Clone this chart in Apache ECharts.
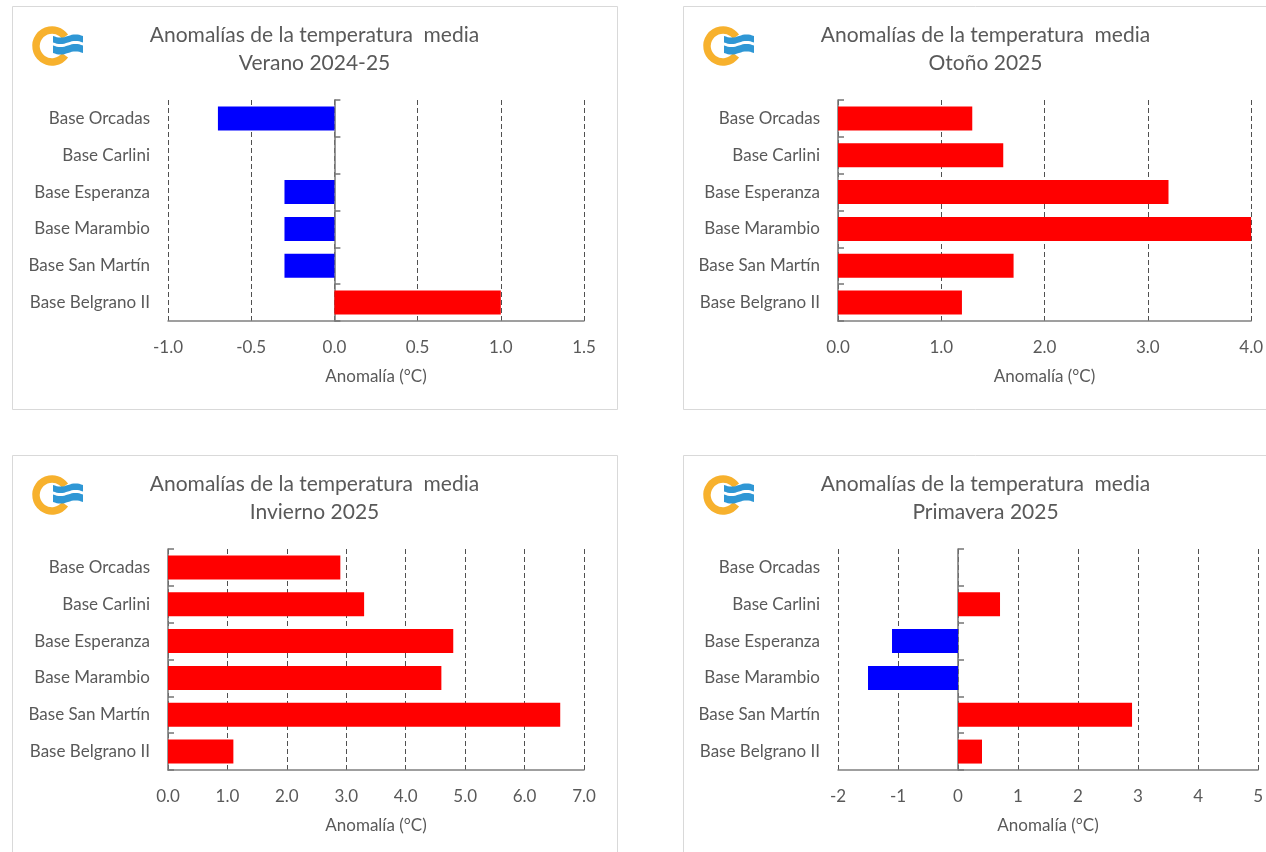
<!DOCTYPE html>
<html>
<head>
<meta charset="utf-8">
<script src="https://cdn.jsdelivr.net/npm/echarts@6/dist/echarts.min.js"></script>
<style>
html,body{margin:0;padding:0;background:#ffffff;}
#c{width:1266px;height:852px;}
</style>
</head>
<body>
<div id="c"></div>
<script>
// ---- data ----
const categories = ['Base Orcadas','Base Carlini','Base Esperanza','Base Marambio','Base San Martín','Base Belgrano II'];
const seasons = ['Verano 2024-25','Otoño 2025','Invierno 2025','Primavera 2025'];
const verano    = [-0.7, null, -0.3, -0.3, -0.3, 1.0];
const otono     = [1.3, 1.6, 3.2, 4.0, 1.7, 1.2];
const invierno  = [2.9, 3.3, 4.8, 4.6, 6.6, 1.1];
const primavera = [null, 0.7, -1.1, -1.5, 2.9, 0.4];
const axisMin = [-1, 0, 0, -2];
const axisMax = [1.5, 4, 7, 5];
const axisStep = [0.5, 1, 1, 1];
const tickDecimals = [1, 1, 1, 0];
const mainTitle = 'Anomalías de la temperatura  media';
const axisTitle = 'Anomalía (°C)';

const seriesValues = [verano, otono, invierno, primavera];

// ---- layout ----
const FONT = 'Lato, "Open Sans", sans-serif';
const TXT = '#595959';
const panels = [
  {x:12,  y:6,   grid:{left:168, top:100, width:416, height:221}},
  {x:683, y:6,   grid:{left:838, top:100, width:417, height:221}},
  {x:12,  y:455, grid:{left:168, top:549, width:416, height:221}},
  {x:683, y:455, grid:{left:838, top:549, width:423, height:221}}
];
const PW = 605, PH = 403;

// decorative wave band for the logo
function waveBand(x0, x1, yTop, thick, amp) {
  const pts = [], n = 16;
  for (let k = 0; k <= n; k++) {
    const x = x0 + (x1 - x0) * k / n;
    pts.push([x, yTop + amp * Math.sin(k / n * 2 * Math.PI)]);
  }
  for (let k = n; k >= 0; k--) {
    const x = x0 + (x1 - x0) * k / n;
    pts.push([x, yTop + thick + amp * Math.sin(k / n * 2 * Math.PI)]);
  }
  return pts;
}

const grids = [], xAxes = [], yAxes = [], series = [], titles = [], graphics = [];

panels.forEach((p, i) => {
  grids.push(Object.assign({containLabel:false}, p.grid));
  titles.push({
    text: mainTitle + '\n' + seasons[i],
    left: p.x + PW/2,
    top: p.y + 15,
    textAlign: 'center',
    padding: 0,
    textStyle: {fontFamily: FONT, fontSize: 21, fontWeight: 'normal', color: TXT, lineHeight: 28}
  });
  xAxes.push({
    type: 'value', gridIndex: i,
    min: axisMin[i], max: axisMax[i], interval: axisStep[i],
    axisLine: {show: true, onZero: false, lineStyle: {color: '#808080', width: 1.5}},
    axisTick: {show: false},
    axisLabel: {
      formatter: v => v.toFixed(tickDecimals[i]),
      color: TXT, fontFamily: FONT, fontSize: 17, margin: 18,
      showMinLabel: true, showMaxLabel: true
    },
    splitLine: {show: true, lineStyle: {color: '#505050', width: 1, type: [5, 3]}},
    name: axisTitle, nameLocation: 'middle', nameGap: 47,
    nameTextStyle: {color: TXT, fontFamily: FONT, fontSize: 17}
  });
  // label axis (kept at left edge of plot)
  yAxes.push({
    type: 'category', gridIndex: i, data: categories, inverse: true,
    axisLine: {show: false, onZero: false},
    axisTick: {show: false},
    axisLabel: {color: TXT, fontFamily: FONT, fontSize: 17, margin: 18},
    splitLine: {show: false}
  });
  // line axis (sits on zero)
  yAxes.push({
    type: 'category', gridIndex: i, data: categories, inverse: true,
    axisLine: {show: true, onZero: true, lineStyle: {color: '#767676', width: 1.5}},
    axisTick: {show: true, length: 6, lineStyle: {color: '#767676', width: 1.5}},
    axisLabel: {show: false},
    splitLine: {show: false}
  });
  series.push({
    type: 'bar', xAxisIndex: i, yAxisIndex: 2*i,
    data: seriesValues[i],
    barCategoryGap: '35%',
    itemStyle: {color: prm => (prm.value < 0 ? '#0000FF' : '#FF0000')},
    silent: true
  });
  // panel border
  graphics.push({
    type: 'rect', silent: true, z: -10,
    shape: {x: p.x + 0.5, y: p.y + 0.5, width: PW, height: PH},
    style: {fill: '#ffffff', stroke: '#d9d9d9', lineWidth: 1}
  });
  // logo
  graphics.push({
    type: 'group', x: p.x + 21, y: p.y + 19, silent: true,
    children: [
      {type: 'arc', shape: {cx: 19, cy: 21, r: 16, startAngle: 0.62, endAngle: Math.PI*2 - 0.62, clockwise: true},
       style: {fill: null, stroke: '#F7B12D', lineWidth: 7.5}},
      {type: 'polygon', shape: {points: waveBand(20, 50, 11, 6.5, 1.6)}, style: {fill: '#2F97D5'}},
      {type: 'polygon', shape: {points: waveBand(20, 50, 20.5, 7.5, 1.6)}, style: {fill: '#2F97D5'}}
    ]
  });
});

const chart = echarts.init(document.getElementById('c'), null, {renderer: 'canvas'});
chart.setOption({
  backgroundColor: '#ffffff',
  animation: false,
  title: titles,
  grid: grids,
  xAxis: xAxes,
  yAxis: yAxes,
  series: series,
  graphic: graphics
});
</script>
</body>
</html>
